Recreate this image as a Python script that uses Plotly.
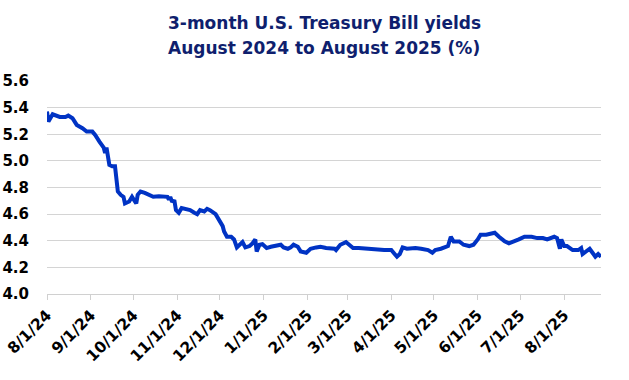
import plotly.graph_objects as go

dates = [
    "2024-08-01", "2024-08-02", "2024-08-05", "2024-08-07", "2024-08-10", "2024-08-14",
    "2024-08-16", "2024-08-19", "2024-08-22", "2024-08-26", "2024-08-29", "2024-09-02",
    "2024-09-04", "2024-09-07", "2024-09-09", "2024-09-10", "2024-09-11", "2024-09-12",
    "2024-09-14", "2024-09-16", "2024-09-18", "2024-09-19", "2024-09-20", "2024-09-22",
    "2024-09-24", "2024-09-25", "2024-09-28", "2024-09-30", "2024-10-02", "2024-10-03",
    "2024-10-04", "2024-10-06", "2024-10-09", "2024-10-12", "2024-10-15", "2024-10-19",
    "2024-10-22", "2024-10-25", "2024-10-26", "2024-10-27", "2024-10-28", "2024-10-30",
    "2024-10-31", "2024-11-02", "2024-11-04", "2024-11-07", "2024-11-10", "2024-11-13",
    "2024-11-15", "2024-11-17", "2024-11-20", "2024-11-22", "2024-11-24", "2024-11-28",
    "2024-11-30", "2024-12-03", "2024-12-04", "2024-12-06", "2024-12-09", "2024-12-11",
    "2024-12-13", "2024-12-15", "2024-12-17", "2024-12-19", "2024-12-22", "2024-12-24",
    "2024-12-26", "2024-12-27", "2024-12-29", "2024-12-31", "2025-01-03", "2025-01-06",
    "2025-01-10", "2025-01-13", "2025-01-15", "2025-01-18", "2025-01-20", "2025-01-22",
    "2025-01-25", "2025-01-27", "2025-01-31", "2025-02-03", "2025-02-07", "2025-02-10",
    "2025-02-14", "2025-02-20", "2025-02-21", "2025-02-24", "2025-02-28", "2025-03-02",
    "2025-03-05", "2025-03-09", "2025-03-15", "2025-03-20", "2025-03-27", "2025-04-01",
    "2025-04-03", "2025-04-05", "2025-04-07", "2025-04-09", "2025-04-12", "2025-04-18",
    "2025-04-22", "2025-04-27", "2025-04-30", "2025-05-02", "2025-05-06", "2025-05-11",
    "2025-05-13", "2025-05-15", "2025-05-19", "2025-05-22", "2025-05-26", "2025-05-29",
    "2025-06-01", "2025-06-03", "2025-06-07", "2025-06-10", "2025-06-13", "2025-06-16",
    "2025-06-20", "2025-06-23", "2025-06-27", "2025-06-30", "2025-07-04", "2025-07-09",
    "2025-07-13", "2025-07-17", "2025-07-20", "2025-07-25", "2025-07-27", "2025-07-29",
    "2025-07-30", "2025-08-01", "2025-08-03", "2025-08-07", "2025-08-11", "2025-08-13",
    "2025-08-14", "2025-08-17", "2025-08-19", "2025-08-21", "2025-08-23", "2025-08-25",
    "2025-08-27",
]

yields = [
    5.37, 5.295, 5.35, 5.34, 5.33, 5.33,
    5.34, 5.32, 5.27, 5.245, 5.22, 5.22,
    5.195, 5.145, 5.12, 5.10, 5.06, 5.10,
    4.97, 4.96, 4.96, 4.87, 4.77, 4.745,
    4.73, 4.68, 4.695, 4.73, 4.695, 4.68,
    4.745, 4.77, 4.76, 4.745, 4.73, 4.735,
    4.73, 4.73, 4.71, 4.73, 4.70, 4.695,
    4.63, 4.61, 4.645, 4.64, 4.63, 4.61,
    4.60, 4.63, 4.62, 4.64, 4.63, 4.60,
    4.56, 4.51, 4.47, 4.43, 4.43, 4.41,
    4.35, 4.37, 4.39, 4.35, 4.36, 4.38,
    4.41, 4.32, 4.37, 4.375, 4.345, 4.355,
    4.36, 4.37, 4.35, 4.34, 4.35, 4.37,
    4.355, 4.32, 4.31, 4.34, 4.35, 4.355,
    4.345, 4.34, 4.33, 4.37, 4.39, 4.37,
    4.345, 4.345, 4.34, 4.33, 4.33, 4.33,
    4.31, 4.28, 4.30, 4.35, 4.34, 4.345,
    4.34, 4.33, 4.31, 4.33, 4.34, 4.36,
    4.43, 4.395, 4.395, 4.37, 4.36, 4.37,
    4.41, 4.445, 4.445, 4.45, 4.46, 4.43,
    4.395, 4.38, 4.395, 4.41, 4.43, 4.43,
    4.42, 4.42, 4.41, 4.43, 4.42, 4.34,
    4.41, 4.36, 4.36, 4.33, 4.33, 4.345,
    4.30, 4.32, 4.34, 4.31, 4.28, 4.30,
    4.28,
]

tick_dates = ["2024-08-01", "2024-09-01", "2024-10-01", "2024-11-01", "2024-12-01",
              "2025-01-01", "2025-02-01", "2025-03-01", "2025-04-01", "2025-05-01",
              "2025-06-01", "2025-07-01", "2025-08-01"]
tick_labels = ["8/1/24", "9/1/24", "10/1/24", "11/1/24", "12/1/24", "1/1/25", "2/1/25",
               "3/1/25", "4/1/25", "5/1/25", "6/1/25", "7/1/25", "8/1/25"]
y_ticks = [4.0, 4.2, 4.4, 4.6, 4.8, 5.0, 5.2, 5.4, 5.6]
title_lines = ["3-month U.S. Treasury Bill yields", "August 2024 to August 2025 (%)"]

TITLE_FONT = dict(family="DejaVu Sans", size=17, color="#0f1f6e", weight="bold")

fig = go.Figure()
fig.add_trace(go.Scatter(
    x=dates, y=yields, mode="lines",
    line=dict(color="#0033c4", width=4),
    hoverinfo="skip",
))

for text, ypos in zip(title_lines, [1.272, 1.157]):
    fig.add_annotation(
        text=text, xref="paper", yref="paper", x=0.5, y=ypos,
        xanchor="center", yanchor="middle", showarrow=False,
        font=TITLE_FONT,
    )

fig.update_layout(
    width=629, height=380,
    margin=dict(l=47, r=28, t=81, b=86, autoexpand=False),
    paper_bgcolor="white", plot_bgcolor="white",
    showlegend=False,
    xaxis=dict(
        type="date",
        range=["2024-08-01", "2025-08-27"],
        tickvals=tick_dates, ticktext=tick_labels,
        tickangle=-45,
        ticks="outside", ticklen=5, tickcolor="#d0d0d0",
        showgrid=False, showline=True, linecolor="#d0d0d0", linewidth=1,
        tickfont=dict(family="DejaVu Sans", size=15.5, color="black", weight="bold"),
        zeroline=False, automargin=False,
    ),
    yaxis=dict(
        range=[4.0, 5.6],
        tickvals=y_ticks, ticktext=[f"{v:.1f}" for v in y_ticks],
        showgrid=True, gridcolor="#d4d4d4", gridwidth=1,
        zeroline=False, showline=False, ticks="", ticklabelstandoff=17,
        tickfont=dict(family="DejaVu Sans", size=15, color="black", weight="bold"),
        automargin=False,
    ),
)

fig.write_html("out.html", config={"displayModeBar": False},
               post_script="document.body.style.margin='0';")
